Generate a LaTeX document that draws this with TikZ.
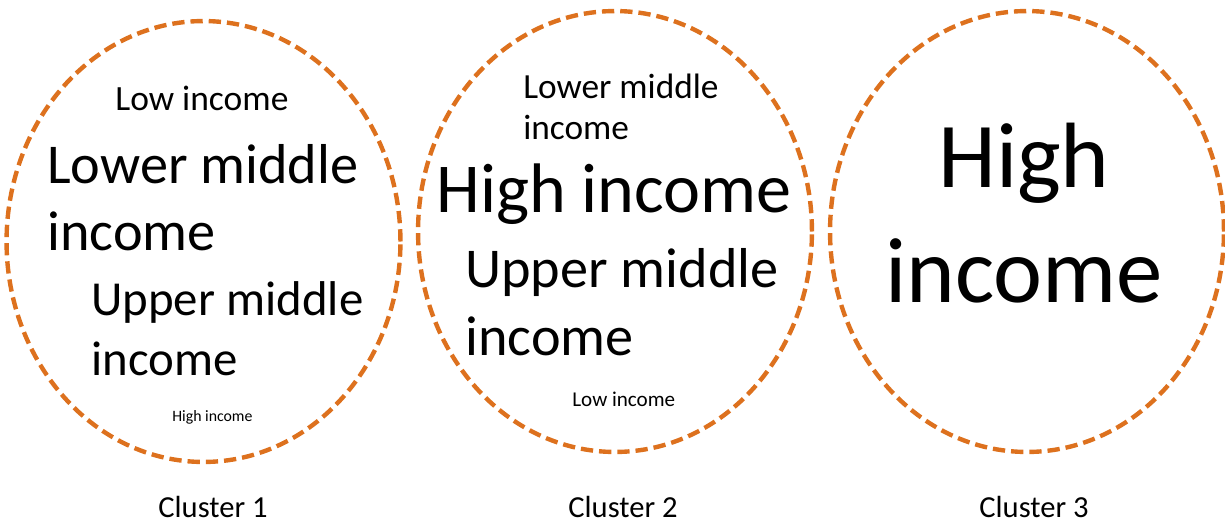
\documentclass[tikz,border=0pt]{standalone}
\usepackage{fontspec}
\setmainfont{Carlito}
\usepackage{xcolor}
\usetikzlibrary{shapes.geometric}

\definecolor{clorange}{RGB}{221,113,30}

\tikzset{
  cluster/.style={ellipse, draw=clorange, line width=2.5pt,
    dash pattern=on 7pt off 3.4pt, inner sep=0pt,
    minimum width=7.88cm, minimum height=8.82cm},
  lbl/.style={inner sep=0pt, anchor=base west, align=left},
  caption/.style={inner sep=0pt, anchor=base, font=\fontsize{17.4}{21}\selectfont}
}

\begin{document}
\begin{tikzpicture}[x=0.02cm, y=-0.02cm]
  \useasboundingbox (0,0) rectangle (1225,525);

  %Cluster 1
  \node[cluster] (c1) at (203.5,241.5) {};
  \node[lbl, font=\fontsize{20.2}{24}\selectfont] (c1low) at (115,110) {Low income};
  \node[lbl, font=\fontsize{32}{38}\selectfont] (c1lower) at (47,250) {Lower middle\\income};
  \node[lbl, font=\fontsize{27.8}{34}\selectfont] (c1upper) at (91,375) {Upper middle\\income};
  \node[lbl, font=\fontsize{9}{11}\selectfont] (c1high) at (172,421) {High income};

  %Cluster 2
  \node[cluster] (c2) at (615,231.5) {};
  \node[lbl, font=\fontsize{20.1}{23.2}\selectfont] (c2lower) at (523,139) {Lower middle\\income};
  \node[lbl, font=\fontsize{39.9}{47}\selectfont] (c2high) at (436,212) {High income};
  \node[lbl, font=\fontsize{32}{38.6}\selectfont] (c2upper) at (465,355) {Upper middle\\income};
  \node[lbl, font=\fontsize{12}{14}\selectfont] (c2low) at (572,406) {Low income};

  %Cluster 3
  \node[cluster] (c3) at (1027,231.5) {};
  \node[inner sep=0pt, anchor=base, align=center, font=\fontsize{52.8}{65.2}\selectfont]
    (c3high) at (1024,302) {High\\income};

  %Captions
  \node[caption] (cap1) at (213,517) {Cluster 1};
  \node[caption] (cap2) at (623,517) {Cluster 2};
  \node[caption] (cap3) at (1034,517) {Cluster 3};
\end{tikzpicture}
\end{document}
